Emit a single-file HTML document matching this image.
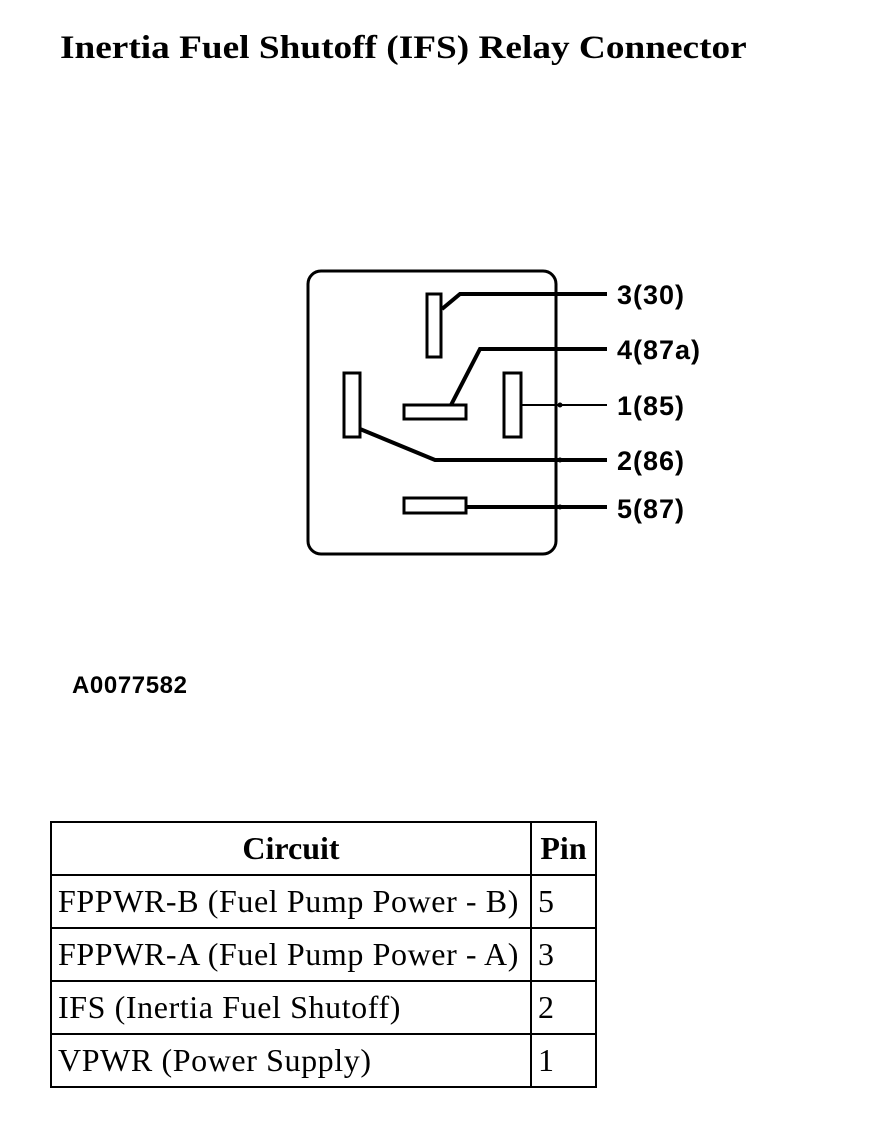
<!DOCTYPE html>
<html><head><style>
body{margin:0;width:880px;height:1138px;background:#fff;position:relative;overflow:hidden}
.t{position:absolute;left:60px;top:30px;font:bold 33px "Liberation Serif",serif;color:#000;transform:scaleX(1.13);transform-origin:0 0;white-space:nowrap}
.id{position:absolute;left:72px;top:672px;font:bold 24px "Liberation Sans",sans-serif;letter-spacing:0.6px}
table{position:absolute;left:50px;top:821px;border-collapse:collapse;font:32px "Liberation Serif",serif;table-layout:fixed;width:545px}
td{border:2.5px solid #000;height:51px;padding:0 0 0 6px;white-space:nowrap;letter-spacing:0.6px;overflow:visible}
th{border:2.5px solid #000;height:51px;font-weight:bold;padding:0}
</style></head><body>
<div class="t">Inertia Fuel Shutoff (IFS) Relay Connector</div>
<svg width="880" height="1138" style="position:absolute;left:0;top:0">
<rect x="308" y="271" width="248" height="283" rx="13" fill="none" stroke="#000" stroke-width="3"/>
<g fill="none" stroke="#000" stroke-width="3">
<rect x="427" y="294" width="14" height="63"/>
<rect x="404" y="405" width="62" height="14"/>
<rect x="504" y="373" width="17" height="64"/>
<rect x="344" y="373" width="16" height="64"/>
<rect x="404" y="498" width="62" height="15"/>
</g>
<g fill="none" stroke="#000" stroke-width="4">
<polyline points="442,309 460,294 607,294"/>
<polyline points="451,405 480,349 607,349"/>
<polyline points="360,429 435,460 607,460"/>
<line x1="466" y1="507" x2="607" y2="507"/>
</g>
<line x1="522" y1="405" x2="607" y2="405" stroke="#000" stroke-width="2"/>
<circle cx="560" cy="405" r="2.5"/><circle cx="560" cy="460" r="2.5"/><circle cx="560" cy="507" r="2.5"/>
<g font-family="Liberation Sans,sans-serif" font-weight="bold" font-size="27" letter-spacing="1">
<text x="617" y="304">3(30)</text>
<text x="617" y="359">4(87a)</text>
<text x="617" y="415">1(85)</text>
<text x="617" y="470">2(86)</text>
<text x="617" y="518">5(87)</text>
</g>
</svg>
<div class="id">A0077582</div>
<table>
<col style="width:480px"><col style="width:65px">
<tr><th>Circuit</th><th>Pin</th></tr>
<tr><td>FPPWR-B (Fuel Pump Power - B)</td><td>5</td></tr>
<tr><td>FPPWR-A (Fuel Pump Power - A)</td><td>3</td></tr>
<tr><td>IFS (Inertia Fuel Shutoff)</td><td>2</td></tr>
<tr><td>VPWR (Power Supply)</td><td>1</td></tr>
</table>
</body></html>
